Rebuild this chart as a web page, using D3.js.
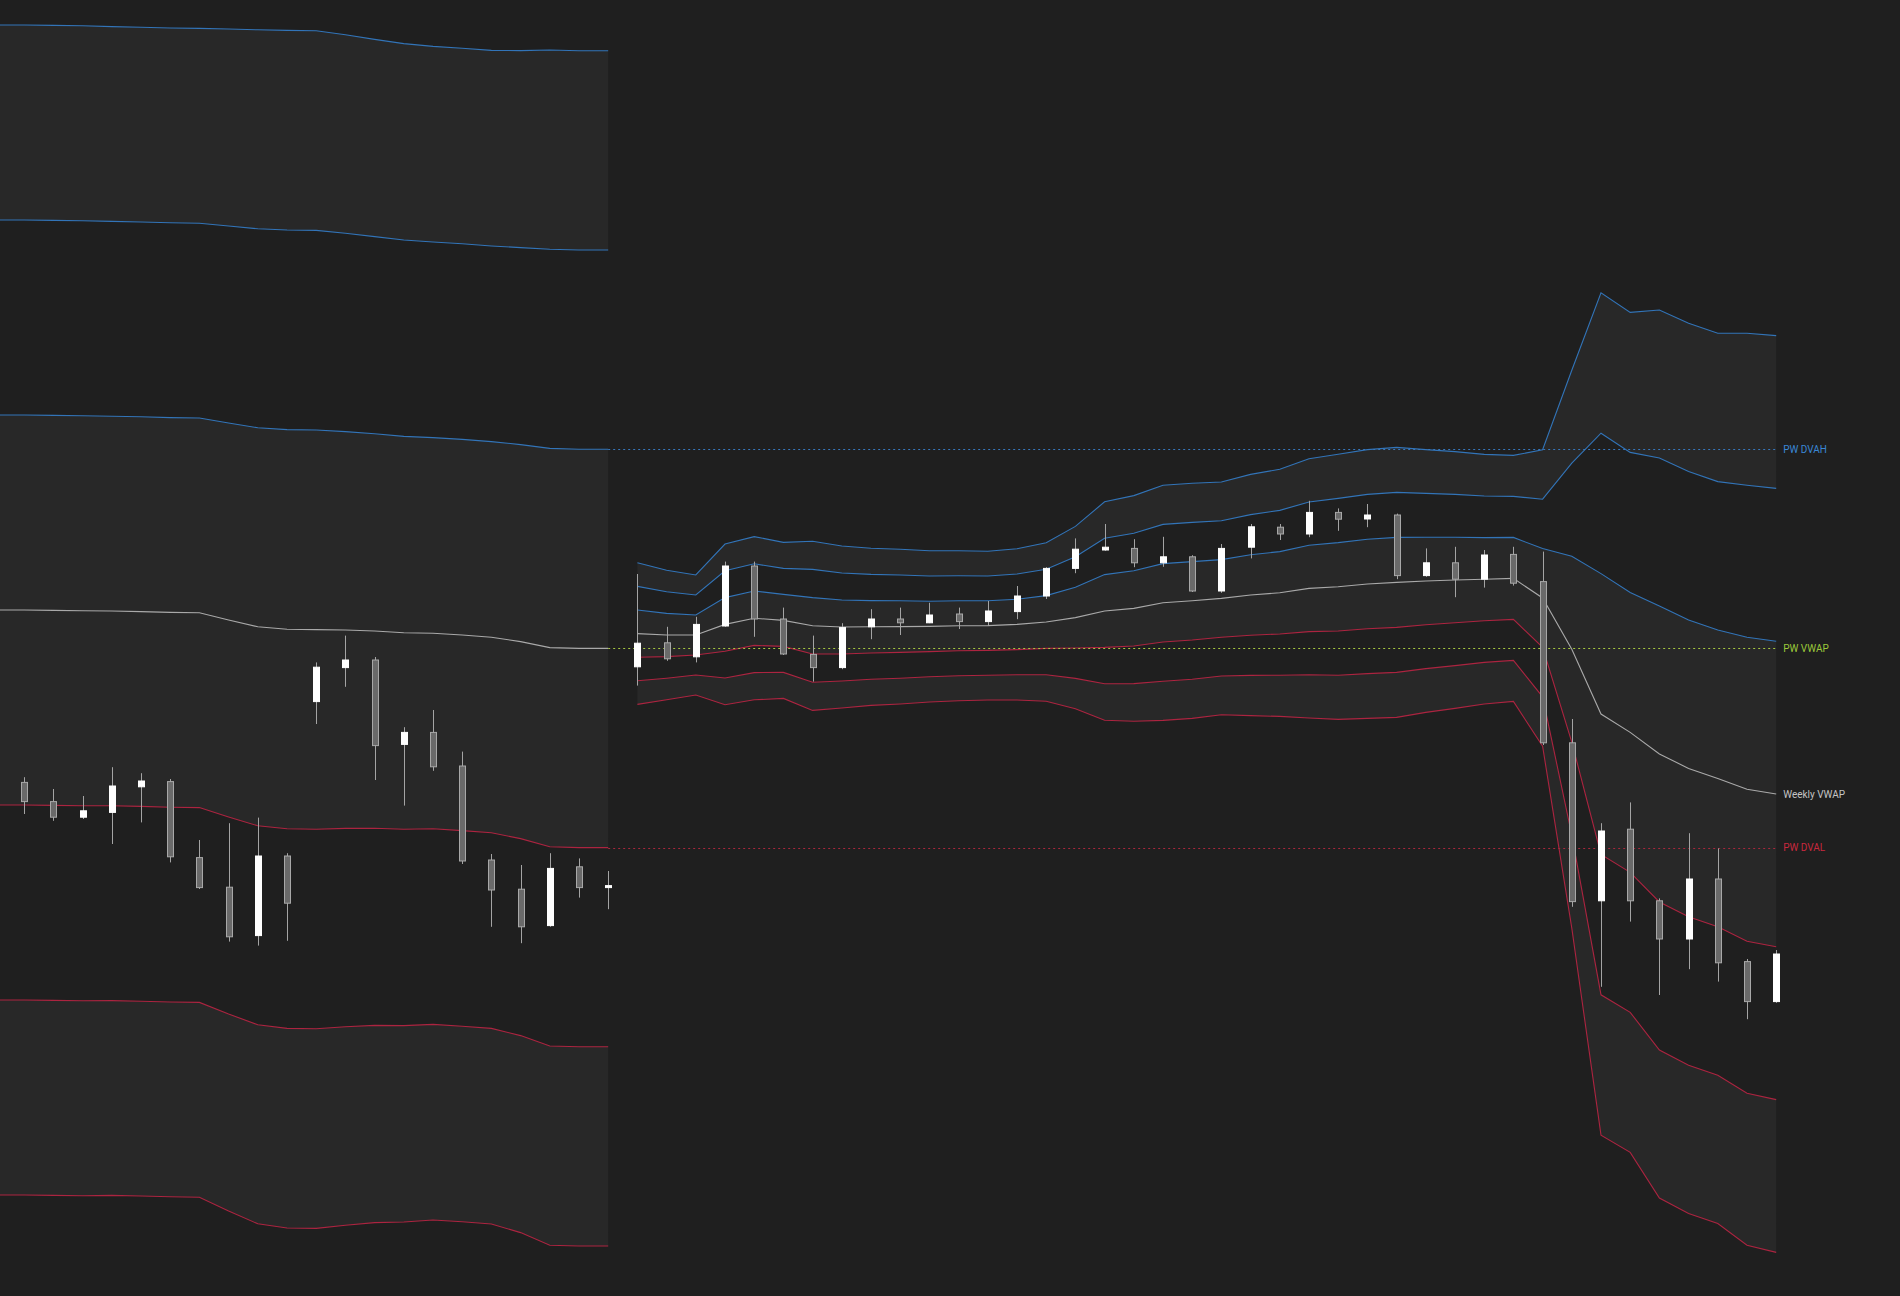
<!DOCTYPE html>
<html><head><meta charset="utf-8">
<script src="https://cdn.jsdelivr.net/npm/d3@7"></script>
<style>html,body{margin:0;padding:0;background:#1f1f1f;overflow:hidden}svg{display:block}</style>
</head><body><svg id="chart"></svg>
<script>
// ---------- data ----------
// bar index (0..60): 0..20 previous week, 21..60 current week
const candleOpen  = [4804.4,4799.6,4795.7,4796.9,4803.3,4804.6,4785.6,4778.2,4766.1,4786,4824.6,4833.1,4835,4813.9,4816.9,4808.5,4785,4777.7,4768.6,4783.3,4778.1,
  4833.3,4839.3,4835.8,4843.5,4858.5,4845.25,4836.4,4833.1,4843.3,4845.25,4844.3,4846.5,4844.6,4847.1,4851,4857.9,4862.5,4862.9,4859.3,4860.8,4852.25,4863.2,4868.2,4866.5,4871.9,4870.25,4871.25,4856.1,4859.3,4855.2,4861.4,4854.6,4814.3,4774.8,4792.7,4774.8,4765.25,4780.25,4759.6,4749.6];
const candleHigh  = [4805.7,4802.75,4801,4808.2,4806.7,4805.25,4790,4794.2,4795.6,4786.7,4834.4,4841.1,4835.75,4818.2,4822.5,4812.1,4786.5,4783.75,4786.7,4785.4,4782.25,
  4856.5,4843.3,4845.8,4859.6,4859.6,4848.1,4841.1,4844.2,4847.7,4848.1,4849.3,4848.1,4849.75,4853.5,4858.2,4865.4,4869,4865.2,4865.8,4861.2,4864,4869,4869,4874.8,4872.9,4874,4871.6,4862.9,4863.3,4862.5,4863.3,4862.1,4820.25,4794.2,4799.4,4775.4,4791.7,4787.9,4760.25,4762.5];
const candleLow   = [4796.5,4794.8,4795.25,4789,4794.4,4784.4,4777.75,4764.6,4763.6,4764.8,4819,4828.3,4805,4798.6,4807.3,4784,4768.3,4764.2,4768.3,4775.6,4772.7,
  4828.6,4834.8,4834.4,4843.3,4840.8,4836.25,4829.6,4832.7,4840.2,4841.25,4844.2,4842.75,4843.75,4845.2,4850.25,4856.7,4862.3,4858.2,4858.3,4852,4851.8,4860.4,4865,4865.7,4867.3,4868.2,4855.2,4855.8,4850.7,4853.1,4853.6,4813.75,4773.3,4753.3,4769.6,4751.25,4757.7,4754.6,4745.2,4749.3];
const candleClose = [4799.6,4795.7,4797.3,4803.5,4804.75,4785.8,4778.1,4765.8,4786,4774.2,4833.2,4835,4813.6,4816.9,4808.3,4784.75,4777.5,4768.3,4782.9,4778.1,4778.6,
  4839.2,4835.3,4843.9,4858.5,4845.25,4836.5,4833.1,4843.1,4845.25,4844.3,4846.25,4844.6,4847.25,4851,4857.9,4862.7,4863.2,4859.3,4860.8,4852.25,4862.9,4868.3,4866.5,4871.9,4870.2,4871.25,4856.1,4859.3,4855.2,4861.25,4854.2,4814.3,4774.6,4792.25,4774.8,4765.25,4780.25,4759.3,4749.6,4761.5];

// previous week VWAP and standard deviation, bar index -1..20
const prevWeekStart = -1;
const prevWeekVWAP = [4847.5,4847.5,4847.4,4847.3,4847.25,4847.1,4846.9,4846.8,4845,4843.3,4842.7,4842.6,4842.5,4842.25,4841.8,4841.7,4841.25,4840.7,4839.6,4838.1,4837.9,4837.9];
const prevWeekSD   = [48.75,48.75,48.75,48.75,48.7,48.7,48.7,48.7,49.25,49.75,49.9,49.9,49.6,49.3,49.1,48.9,48.9,48.9,49.25,49.8,49.8,49.8];

// current week VWAP and standard deviation, bar index 21..60
const curWeekStart = 21;
const curWeekVWAP = [4841.6,4841.25,4841.25,4843.9,4845.45,4844.9,4843.55,4843.25,4843.3,4843.35,4843.4,4843.55,4843.6,4843.9,4844.5,4845.6,4847.25,4847.9,4849.3,4849.8,
  4850.4,4851.25,4851.8,4852.9,4853.3,4854,4854.4,4854.75,4855,4855.2,4855.4,4850.5,4837.7,4821.5,4816.9,4811.5,4807.9,4805.4,4802.7,4801.5];
const curWeekSD   = [5.9,5.4,5.0,6.7,6.8,6.5,7.05,6.75,6.55,6.45,6.3,6.25,6.2,6.3,6.6,7.6,9.1,9.4,9.8,9.8,
  9.7,10.05,10.3,10.8,11.05,11.2,11.25,10.95,10.7,10.4,10.25,12.35,23.25,35.1,35,37,37.1,37.1,38,38.2];

// previous-week levels
const levelNames  = ["PW DVAH","PW VWAP","PW DVAL"];
const levelValues = [4887.7,4837.9,4788.1];
const levelColors = ["#3a87d6","#9cc83a","#c8283e"];
const lineColors  = ["#3777bd","#a7c940","#a8283c"];

// ---------- drawing ----------
const W = 1900, H = 1296;
const svg = d3.select("#chart").attr("width", W).attr("height", H);
svg.append("rect").attr("width", W).attr("height", H).attr("fill", "#1f1f1f");

const x = d3.scaleLinear().domain([0, 60]).range([24.2, 1776.2]);
const y = d3.scaleLinear().domain([5000, 4676]).range([0, H]);

function weekPoints(start, vwap, sd) {
  return vwap.map((v, k) => ({ i: start + k, v, s: sd[k] }));
}
const weeks = [weekPoints(prevWeekStart, prevWeekVWAP, prevWeekSD), weekPoints(curWeekStart, curWeekVWAP, curWeekSD)];

const fillPairs = [[3, 2], [1, -1], [-2, -3]];
const gFill = svg.append("g");
const gLines = svg.append("g");
weeks.forEach(pts => {
  fillPairs.forEach(([a, b]) => {
    const area = d3.area()
      .x(d => x(d.i))
      .y0(d => y(d.v + a * d.s))
      .y1(d => y(d.v + b * d.s));
    gFill.append("path").attr("d", area(pts)).attr("fill", "#282828");
  });
  [3, 2, 1, -1, -2, -3].forEach(k => {
    const line = d3.line().x(d => x(d.i)).y(d => y(d.v + k * d.s));
    gLines.append("path").attr("d", line(pts)).attr("fill", "none")
      .attr("stroke", k > 0 ? "#3274b8" : "#ac2440").attr("stroke-width", 1.1);
  });
  const vline = d3.line().x(d => x(d.i)).y(d => y(d.v));
  gLines.append("path").attr("d", vline(pts)).attr("fill", "none")
    .attr("stroke", "#a9a9a9").attr("stroke-width", 1.1);
});

// previous week level dotted lines
const gLevels = svg.append("g");
levelValues.forEach((v, k) => {
  gLevels.append("line")
    .attr("x1", x(20)).attr("x2", x(60))
    .attr("y1", Math.round(y(v)) + 0.5).attr("y2", Math.round(y(v)) + 0.5)
    .attr("stroke", lineColors[k]).attr("stroke-width", 1)
    .attr("stroke-dasharray", "2,3");
});

// candles
const idx = d3.range(candleOpen.length);
const gC = svg.append("g");
const bodyW = 6;
idx.forEach(i => {
  const o = candleOpen[i], c = candleClose[i], hi = candleHigh[i], lo = candleLow[i];
  const up = c >= o;
  const cx = Math.round(x(i)) + 0.5;
  gC.append("line").attr("x1", cx).attr("x2", cx)
    .attr("y1", y(hi)).attr("y2", y(lo))
    .attr("stroke", "#a4a4a4").attr("stroke-width", 1);
  const top = y(Math.max(o, c)), bot = y(Math.min(o, c));
  const h = Math.max(bot - top, 2);
  gC.append("rect")
    .attr("x", cx - bodyW / 2).attr("y", top)
    .attr("width", bodyW).attr("height", h)
    .attr("fill", up ? "#ffffff" : "#6a6a6a")
    .attr("stroke", up ? "#ffffff" : "#a8a8a8").attr("stroke-width", 1);
});

// labels
const gT = svg.append("g").attr("font-family", "Roboto, 'Liberation Sans', sans-serif").attr("font-size", 10);
levelValues.forEach((v, k) => {
  gT.append("text").attr("x", x(60) + 7).attr("y", y(v)).attr("dy", "0.35em")
    .attr("fill", levelColors[k]).text(levelNames[k]);
});
gT.append("text").attr("x", x(60) + 7).attr("y", y(curWeekVWAP[curWeekVWAP.length - 1])).attr("dy", "0.35em")
  .attr("fill", "#c4c4c4").text("Weekly VWAP");
</script>
</body></html>
